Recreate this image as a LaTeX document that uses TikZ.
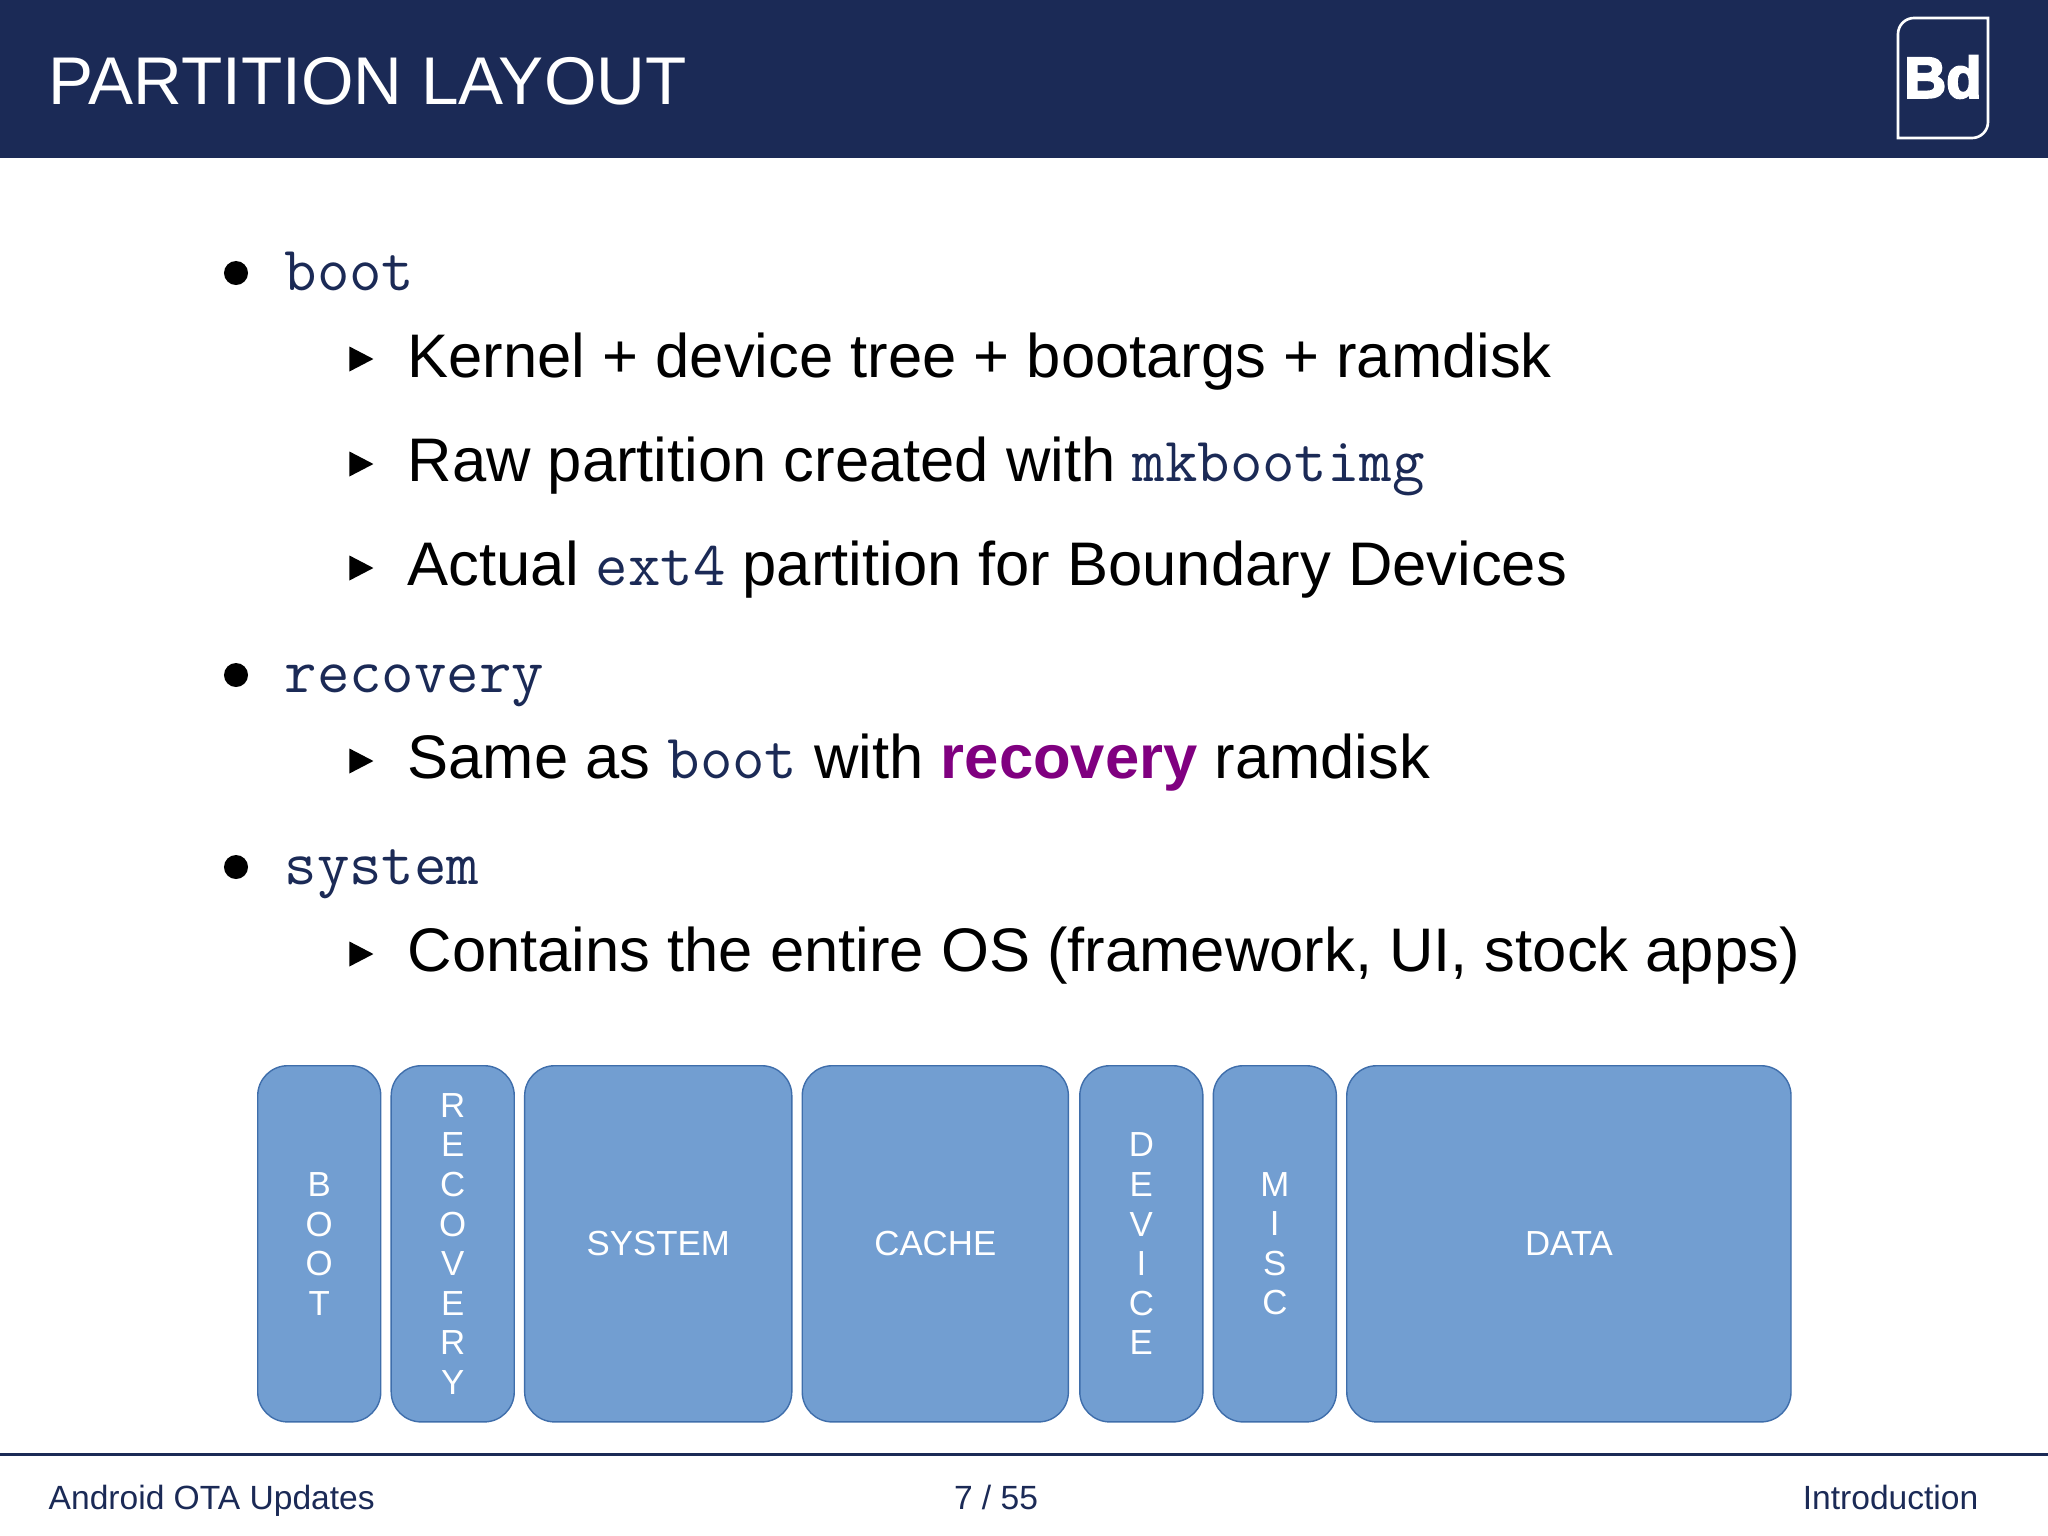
\documentclass[tikz,border=0pt]{standalone}
\usepackage{fontspec}
\setmainfont{Liberation Sans}
\setmonofont[Scale=1.023]{Latin Modern Mono}
\newfontfamily\logofont[UprightFont=* Bold,FakeBold=3.5]{Liberation Sans}
\usetikzlibrary{positioning}
\usetikzlibrary{shapes.geometric}
\definecolor{navy}{HTML}{1B2A56}
\definecolor{partfill}{HTML}{729ED1}
\definecolor{partline}{HTML}{3F6EAB}
\definecolor{recpurple}{HTML}{800080}
\newcommand{\code}[1]{{\ttfamily\color{navy}#1}}

\begin{document}
\begin{tikzpicture}
	[x=0.01cm,y=-0.01cm,
	titlestyle/.style={anchor=base west,inner sep=0,text=white,font=\fontsize{19.2}{22}\selectfont},
	headstyle/.style={anchor=base west,inner sep=0,font=\fontsize{17.5}{20}\selectfont},
	substyle/.style={anchor=base west,inner sep=0,text=black,font=\fontsize{17.5}{20}\selectfont},
	dotstyle/.style={circle,fill=black,inner sep=0,minimum size=0.24cm},
	arrowstyle/.style={isosceles triangle,isosceles triangle stretches,fill=black,inner sep=0,minimum width=0.25cm,minimum height=0.24cm},
	partstyle/.style={rounded corners=0.3cm,draw=partline,fill=partfill,line width=0.4pt,text=white,inner sep=0,
		minimum height=3.56cm,align=center,font=\fontsize{9.9}{11.24}\selectfont},
	footstyle/.style={inner sep=0,text=navy,font=\fontsize{9.55}{11}\selectfont}
	]
	\useasboundingbox (0,0) rectangle (2048,1536);
	
	%Set params
	\def\hordist{0.09}
	
	%Header
	\fill[navy] (0,0) rectangle (2048,158);
	\node(Title)[titlestyle] at (48,104) {PARTITION LAYOUT};
	\draw[white,line width=0.75pt] (1898,138) -- (1898,34) arc[start angle=180,end angle=90,radius=0.16cm] -- (1988,18) -- (1988,122) arc[start angle=0,end angle=-90,radius=0.16cm] -- cycle;
	\node(Logo)[inner sep=0,text=white,font=\fontsize{16.5}{18}\logofont] at (1943,77) {Bd};
	
	%Boot
	\node(BootDot)[dotstyle] at (236,273) {};
	\node(Boot)[headstyle] at (284,290) {\code{boot}};
	\node(KernelArrow)[arrowstyle] at (357,359) {};
	\node(Kernel)[substyle] at (407,377) {Kernel + device tree + bootargs + ramdisk};
	\node(RawArrow)[arrowstyle] at (357,464) {};
	\node(Raw)[substyle] at (407,481) {Raw partition created with \code{mkbootimg}};
	\node(ActualArrow)[arrowstyle] at (357,568) {};
	\node(Actual)[substyle] at (407,585) {Actual \code{ext4} partition for Boundary Devices};
	
	%Recovery
	\node(RecoveryDot)[dotstyle] at (236,675) {};
	\node(Recovery)[headstyle] at (284,692) {\code{recovery}};
	\node(SameArrow)[arrowstyle] at (357,761) {};
	\node(Same)[substyle] at (407,778) {Same as \code{boot} with {\bfseries\color{recpurple}recovery} ramdisk};
	
	%System
	\node(SystemDot)[dotstyle] at (236,867) {};
	\node(System)[headstyle] at (284,884) {\code{system}};
	\node(ContainsArrow)[arrowstyle] at (357,954) {};
	\node(Contains)[substyle] at (407,971) {Contains the entire OS (framework, UI, stock apps)};
	
	%Partitions
	\node(PartBoot)[partstyle,minimum width=1.23cm,anchor=north west] at (257,1065) {B\\O\\O\\T};
	\node(PartRecovery)[partstyle,minimum width=1.23cm,right=\hordist cm of PartBoot] {R\\E\\C\\O\\V\\E\\R\\Y};
	\node(PartSystem)[partstyle,minimum width=2.67cm,right=\hordist cm of PartRecovery] {SYSTEM};
	\node(PartCache)[partstyle,minimum width=2.66cm,right=\hordist cm of PartSystem] {CACHE};
	\node(PartDevice)[partstyle,minimum width=1.23cm,right=0.10cm of PartCache] {D\\E\\V\\I\\C\\E};
	\node(PartMisc)[partstyle,minimum width=1.23cm,right=\hordist cm of PartDevice] {M\\I\\S\\C};
	\node(PartData)[partstyle,minimum width=4.44cm,right=\hordist cm of PartMisc] {DATA};
	
	%Footer
	\draw[navy,line width=0.85pt] (0,1454) -- (2048,1454);
	\node(FootLeft)[footstyle,anchor=base west] at (48,1509) {Android OTA Updates};
	\node(FootMid)[footstyle,anchor=base] at (996,1509) {7 / 55};
	\node(FootRight)[footstyle,anchor=base east] at (1979,1509) {Introduction};
	
\end{tikzpicture}
\end{document}
